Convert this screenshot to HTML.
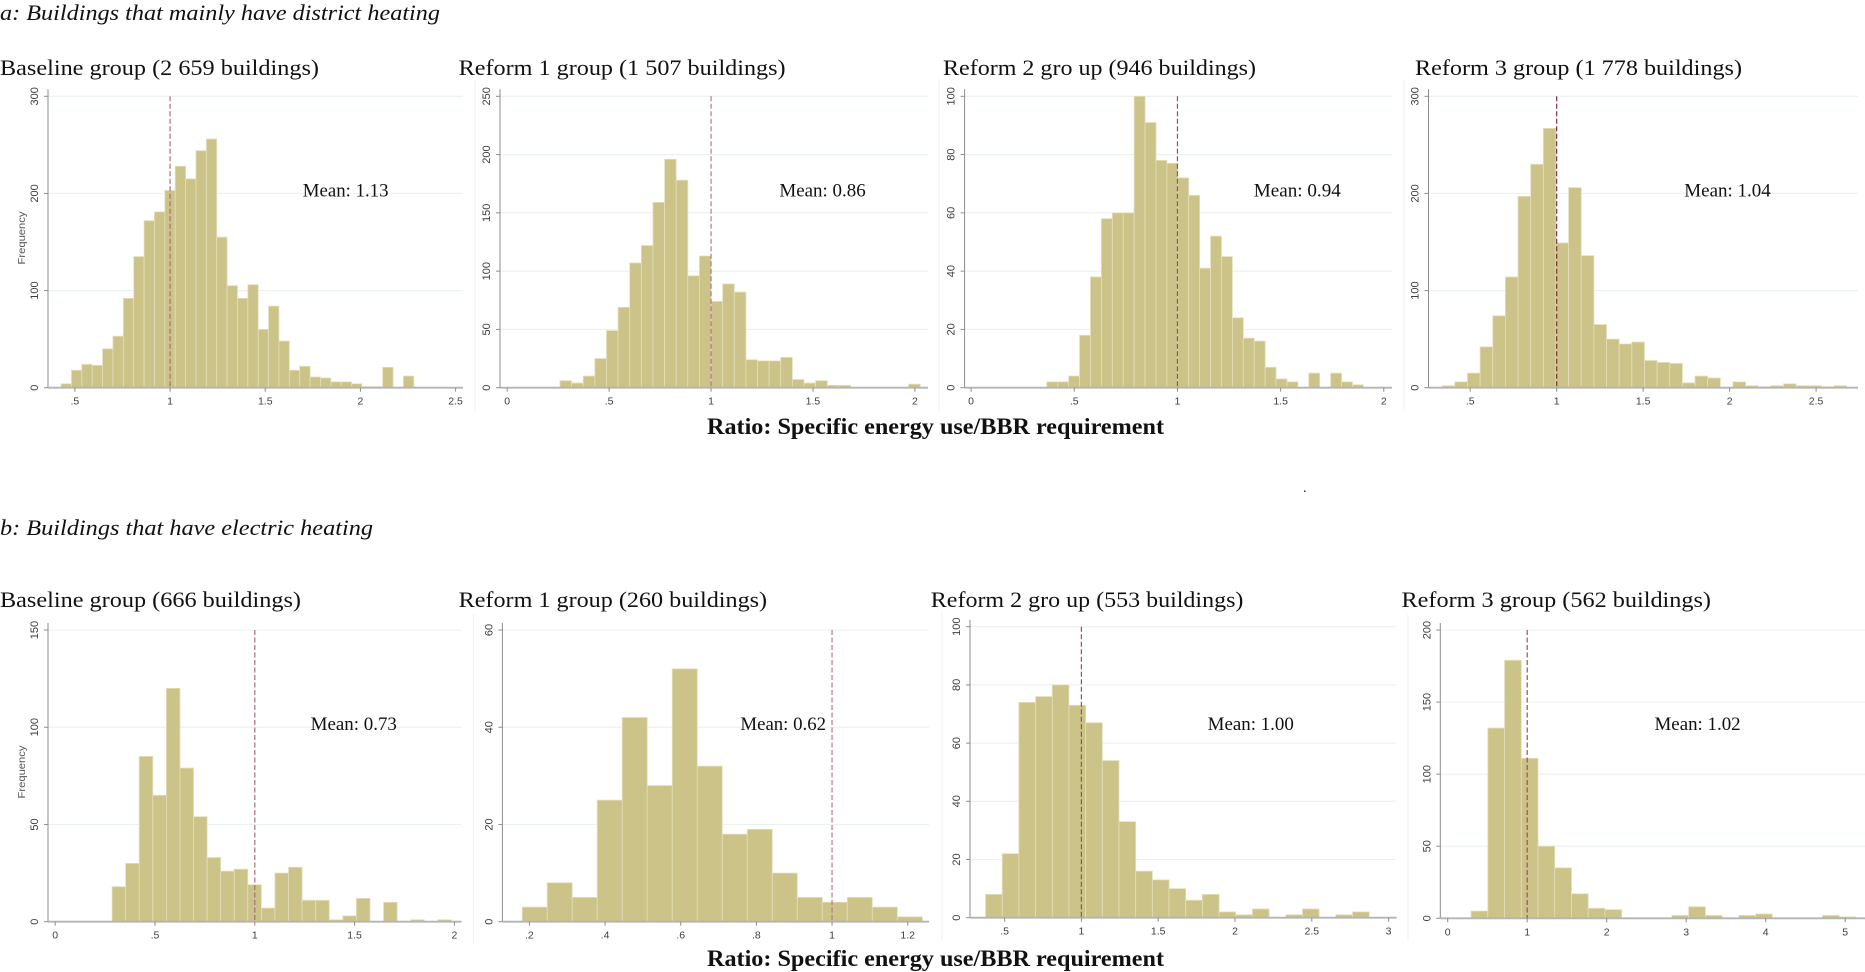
<!DOCTYPE html>
<html lang="en">
<head>
<meta charset="utf-8">
<title>Specific energy use relative to BBR requirement</title>
<style>
html,body{margin:0;padding:0;background:#fff;width:1865px;height:972px;overflow:hidden}
svg{display:block}
.sec{font:italic 22.5px "Liberation Serif",serif;fill:#111}
.ttl{font:22.5px "Liberation Serif",serif;fill:#111}
.mean{font:18.5px "Liberation Serif",serif;fill:#111}
.xttl{font:bold 23.5px "Liberation Serif",serif;fill:#111}
.tick{font:10.5px "Liberation Sans",sans-serif;fill:#3d3d3d}
.ytick{font:11px "Liberation Sans",sans-serif;fill:#3d3d3d}
.ylab{font:10.5px "Liberation Sans",sans-serif;fill:#555}
</style>
</head>
<body>
<svg id="figure" width="1865" height="972" viewBox="0 0 1865 972" xmlns="http://www.w3.org/2000/svg">
  <g id="charts" style="filter:blur(0.35px)"></g>

  <text class="sec" x="0" y="20" textLength="440" lengthAdjust="spacingAndGlyphs">a: Buildings that mainly have district heating</text>
  <text class="ttl" x="0" y="75" textLength="319" lengthAdjust="spacingAndGlyphs">Baseline group (2 659 buildings)</text>
  <text class="ttl" x="458.6" y="75" textLength="327" lengthAdjust="spacingAndGlyphs">Reform 1 group (1 507 buildings)</text>
  <text class="ttl" x="943" y="75" textLength="313" lengthAdjust="spacingAndGlyphs">Reform 2 gro up (946 buildings)</text>
  <text class="ttl" x="1415" y="75" textLength="327" lengthAdjust="spacingAndGlyphs">Reform 3 group (1 778 buildings)</text>

  <text class="mean" x="302.8" y="196.7" textLength="85.7" lengthAdjust="spacingAndGlyphs">Mean: 1.13</text>
  <text class="mean" x="779.4" y="196.7" textLength="86.3" lengthAdjust="spacingAndGlyphs">Mean: 0.86</text>
  <text class="mean" x="1253.8" y="196.7" textLength="87" lengthAdjust="spacingAndGlyphs">Mean: 0.94</text>
  <text class="mean" x="1684.3" y="196.7" textLength="86.5" lengthAdjust="spacingAndGlyphs">Mean: 1.04</text>

  <text class="xttl" x="707" y="434" textLength="457" lengthAdjust="spacingAndGlyphs">Ratio: Specific energy use/BBR requirement</text>
  <text class="ttl" x="1303" y="492" style="font-size:14px">.</text>

  <text class="sec" x="0" y="535" textLength="373" lengthAdjust="spacingAndGlyphs">b: Buildings that have electric heating</text>
  <text class="ttl" x="0" y="607" textLength="301" lengthAdjust="spacingAndGlyphs">Baseline group (666 buildings)</text>
  <text class="ttl" x="458.6" y="607" textLength="308.5" lengthAdjust="spacingAndGlyphs">Reform 1 group (260 buildings)</text>
  <text class="ttl" x="930.8" y="607" textLength="312.6" lengthAdjust="spacingAndGlyphs">Reform 2 gro up (553 buildings)</text>
  <text class="ttl" x="1401.5" y="607" textLength="309.5" lengthAdjust="spacingAndGlyphs">Reform 3 group (562 buildings)</text>

  <text class="mean" x="310.6" y="730" textLength="86.3" lengthAdjust="spacingAndGlyphs">Mean: 0.73</text>
  <text class="mean" x="740.4" y="730" textLength="85.6" lengthAdjust="spacingAndGlyphs">Mean: 0.62</text>
  <text class="mean" x="1207.7" y="730" textLength="86.1" lengthAdjust="spacingAndGlyphs">Mean: 1.00</text>
  <text class="mean" x="1654.5" y="730" textLength="86.1" lengthAdjust="spacingAndGlyphs">Mean: 1.02</text>

  <text class="xttl" x="707" y="966" textLength="457" lengthAdjust="spacingAndGlyphs">Ratio: Specific energy use/BBR requirement</text>
</svg>

<script>
// ---- Data ----
const a1Counts = [4,18,24,23,40,53,92,135,172,181,203,228,215,244,256,155,105,92,106,60,84,48,18,22,11,10,6,6,4,1,1,21,0,12];
const a1XTicks = [0.5,1,1.5,2,2.5];
const a1YTicks = [0,100,200,300];

const a2Counts = [6,4,10,25,49,69,107,122,159,196,178,96,113,74,89,82,24,23,23,26,7,4,6,2,2,0,0,0,0,0,3];
const a2XTicks = [0,0.5,1,1.5,2];
const a2YTicks = [0,50,100,150,200,250];

const a3Counts = [2,2,4,18,38,58,60,60,100,91,78,77,72,66,41,52,45,24,17,16,7,3,2,0,5,0,5,2,1];
const a3XTicks = [0,0.5,1,1.5,2];
const a3YTicks = [0,20,40,60,80,100];

const a4Counts = [2,6,15,42,74,114,197,230,267,149,206,136,65,50,45,47,28,26,25,5,12,10,0,6,2,1,2,4,2,2,1,2];
const a4XTicks = [0.5,1,1.5,2,2.5];
const a4YTicks = [0,100,200,300];

const b1Counts = [18,30,85,65,120,79,54,33,26,27,19,7,25,28,11,11,1,3,12,0,10,0,1,0,1];
const b1XTicks = [0,0.5,1,1.5,2];
const b1YTicks = [0,50,100,150];

const b2Counts = [3,8,5,25,42,28,52,32,18,19,10,5,4,5,3,1];
const b2XTicks = [0.2,0.4,0.6,0.8,1,1.2];
const b2YTicks = [0,20,40,60];

const b3Counts = [8,22,74,76,80,73,67,54,33,16,13,10,6,8,2,1,3,0,1,3,0,1,2];
const b3XTicks = [0.5,1,1.5,2,2.5,3];
const b3YTicks = [0,20,40,60,80,100];

const b4Counts = [5,132,179,111,50,35,17,7,6,0,0,0,2,8,2,0,2,3,0,0,0,2,1];
const b4XTicks = [0,1,2,3,4,5];
const b4YTicks = [0,50,100,150,200];

const NS = 'http://www.w3.org/2000/svg';
const root = document.getElementById('charts');

function node(parent, tag, attrs, txt) {
  const el = document.createElementNS(NS, tag);
  for (const k in attrs) el.setAttribute(k, attrs[k]);
  if (txt !== undefined) el.textContent = txt;
  parent.appendChild(el);
  return el;
}

function fmt(v) {
  return String(v).replace(/^0\./, '.');
}

function drawPanel(p) {
  // axis functions
  const x = v => p.xPxA + (v - p.xValA) * (p.xPxB - p.xPxA) / (p.xValB - p.xValA);
  const yMax = p.yTicks[p.yTicks.length - 1];
  const y = v => p.yBase + v * (p.yTop - p.yBase) / yMax;

  const g = node(root, 'g', {});
  
  

  // faint panel border on the left
  if (p.sepX) {
    const sep = node(g, 'line', {x1: p.sepX, x2: p.sepX, y1: p.yTop - 16, y2: p.yBase + 23, stroke: '#f1f1f1', 'stroke-width': 1});
    
    
  }

  // gridlines
  p.yTicks.forEach(t => {
    if (t === 0) return;
    const gl = node(g, 'line', {x1: p.axisX, x2: p.right, y1: y(t), y2: y(t), stroke: '#e9f1f2', 'stroke-width': 1.1});
    
    
  });

  // bars
  p.counts.forEach((c, i) => {
    if (c === 0) return;
    const x0 = x(p.binStart + i * p.binWidth);
    const x1 = x(p.binStart + (i + 1) * p.binWidth);
    const r = node(g, 'rect', {x: x0, y: y(c), width: x1 - x0, height: p.yBase - y(c), fill: '#cbc388', stroke: '#e4dfbd', 'stroke-width': 0.8});
    
    
  });

  // axes
  const ya = node(g, 'line', {x1: p.axisX, x2: p.axisX, y1: p.yTop - 7, y2: p.yBase, stroke: '#8c8c8c', 'stroke-width': 1});
  
  
  const xa = node(g, 'line', {x1: p.axisX, x2: p.right, y1: p.yBase, y2: p.yBase, stroke: '#b4b4b4', 'stroke-width': 1.8});
  
  

  // y ticks
  p.yTicks.forEach(t => {
    const m = node(g, 'line', {x1: p.axisX - 4, x2: p.axisX, y1: y(t), y2: y(t), stroke: '#8c8c8c', 'stroke-width': 1});
    
    
    const tx = p.axisX - 10;
    const l = node(g, 'text', {class: 'ytick', x: tx, y: y(t), 'text-anchor': 'middle', transform: 'rotate(-90 ' + tx + ' ' + y(t) + ')'}, fmt(t));
    
    
  });

  // x ticks
  p.xTicks.forEach(t => {
    const m = node(g, 'line', {x1: x(t), x2: x(t), y1: p.yBase, y2: p.yBase + 4, stroke: '#8c8c8c', 'stroke-width': 1});
    
    
    const l = node(g, 'text', {class: 'tick', x: x(t), y: p.yBase + 17, 'text-anchor': 'middle'}, fmt(t));
    
    
  });

  // reference line at ratio = 1
  const rl = node(g, 'line', {x1: x(1), x2: x(1), y1: y(yMax), y2: p.yBase, stroke: p.refColor, 'stroke-width': 1.2, 'stroke-dasharray': '5 2.5'});
  
  

  // y-axis title
  if (p.yLabel) {
    const cy = p.yLabelY;
    const yt = node(g, 'text', {class: 'ylab', x: 25, y: cy, 'text-anchor': 'middle', textLength: 53, lengthAdjust: 'spacingAndGlyphs', transform: 'rotate(-90 25 ' + cy + ')'}, 'Frequency');
    
    
  }
}

drawPanel({id:'a1', counts:a1Counts, xTicks:a1XTicks, yTicks:a1YTicks, binStart:0.4275, binWidth:0.0545,
  xValA:0.5, xPxA:74.9, xValB:2.5, xPxB:455.6, yBase:387.7, yTop:96.3, axisX:48, right:463,
  refColor:'#a96f7c', yLabel:true, yLabelY:238});
drawPanel({id:'a2', counts:a2Counts, xTicks:a2XTicks, yTicks:a2YTicks, binStart:0.259, binWidth:0.057,
  xValA:0, xPxA:507.2, xValB:2, xPxB:914.9, yBase:387.7, yTop:96.3, axisX:500, right:928,
  refColor:'#b07c88', sepX:475});
drawPanel({id:'a3', counts:a3Counts, xTicks:a3XTicks, yTicks:a3YTicks, binStart:0.367, binWidth:0.0529,
  xValA:0, xPxA:971.1, xValB:2, xPxB:1383.8, yBase:387.7, yTop:96.3, axisX:964.6, right:1392,
  refColor:'#99505f', sepX:939});
drawPanel({id:'a4', counts:a4Counts, xTicks:a4XTicks, yTicks:a4YTicks, binStart:0.338, binWidth:0.0731,
  xValA:0.5, xPxA:1470.2, xValB:2.5, xPxB:1816.1, yBase:387.7, yTop:96.3, axisX:1428.5, right:1858,
  refColor:'#7c2f40', sepX:1404});
drawPanel({id:'b1', counts:b1Counts, xTicks:b1XTicks, yTicks:b1YTicks, binStart:0.285, binWidth:0.068,
  xValA:0, xPxA:55.2, xValB:2, xPxB:454.4, yBase:921.7, yTop:630, axisX:48, right:461.6,
  refColor:'#a96f7c', yLabel:true, yLabelY:772});
drawPanel({id:'b2', counts:b2Counts, xTicks:b2XTicks, yTicks:b2YTicks, binStart:0.181, binWidth:0.0661,
  xValA:0.2, xPxA:529.4, xValB:1.2, xPxB:907.7, yBase:921.7, yTop:630, axisX:502.4, right:929,
  refColor:'#b07c88', sepX:473.6});
drawPanel({id:'b3', counts:b3Counts, xTicks:b3XTicks, yTicks:b3YTicks, binStart:0.376, binWidth:0.1086,
  xValA:0.5, xPxA:1004.6, xValB:3, xPxB:1388.6, yBase:917.7, yTop:626.7, axisX:970, right:1396.6,
  refColor:'#99505f', sepX:942});
drawPanel({id:'b4', counts:b4Counts, xTicks:b4XTicks, yTicks:b4YTicks, binStart:0.294, binWidth:0.2105,
  xValA:0, xPxA:1447.7, xValB:5, xPxB:1845.2, yBase:918.3, yTop:630, axisX:1440.3, right:1865,
  refColor:'#99505f', sepX:1408});
</script>
</body>
</html>
